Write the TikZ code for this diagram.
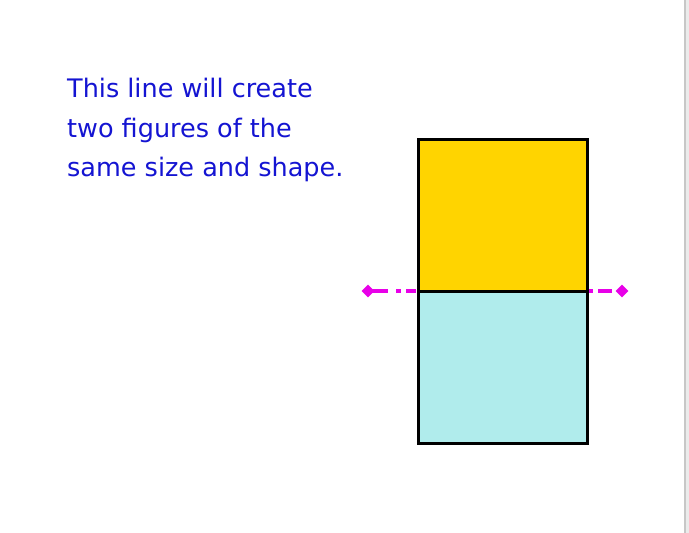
\documentclass[tikz,border=0pt]{standalone}
\usepackage{fontspec}
\setmainfont{DejaVu Sans}
\usetikzlibrary{shapes.geometric}
\definecolor{txtblue}{RGB}{20,20,210}
\definecolor{topfill}{RGB}{255,212,0}
\definecolor{botfill}{RGB}{176,236,236}
\definecolor{mag}{RGB}{232,0,232}
\tikzset{
  txt/.style={anchor=base west, inner sep=0pt, text=txtblue, font=\fontsize{25.5}{30}\selectfont},
  half/.style={draw=black, line width=3pt},
  cutline/.style={draw=mag, line width=3.5pt},
  tip/.style={diamond, fill=mag, inner sep=0pt, minimum width=13pt, minimum height=13pt}
}
\begin{document}
\begin{tikzpicture}[x=1pt,y=-1pt]
\useasboundingbox (0,0) rectangle (689,533);
\fill[white] (0,0) rectangle (689,533);
\fill[black!22] (684,0) rectangle (686,533);
\fill[black!8] (686,0) rectangle (689,533);
\node[txt] (l1) at (67,97) {This line will create};
\node[txt] (l2) at (67,137) {two figures of the};
\node[txt] (l3) at (67,176) {same size and shape.};
\fill[topfill] (418,139) rectangle (587,291);
\fill[botfill] (418,291) rectangle (587,443);
\draw[half] (418,139) rectangle (587,443);
\draw[half] (418,291) -- (587,291);
\node[tip] (dl) at (368,291) {};
\node[tip] (dr) at (622,291) {};
\coordinate (el) at (418,291);
\coordinate (er) at (587,291);
\draw[cutline] (372,291) -- (388,291);
\draw[cutline] (396,291) -- (401,291);
\draw[cutline] (406,291) -- (416,291);
\draw[cutline] (589,291) -- (593,291);
\draw[cutline] (598,291) -- (612,291);
\end{tikzpicture}
\end{document}
